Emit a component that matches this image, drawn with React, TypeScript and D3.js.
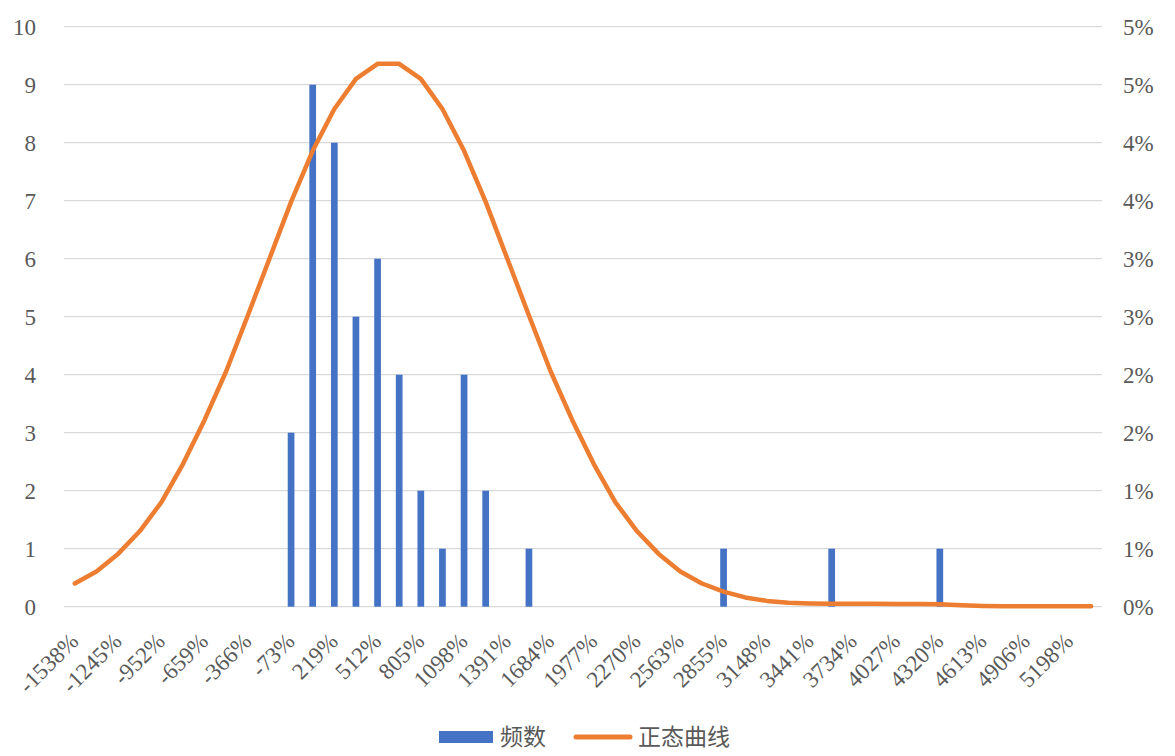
import { useEffect, useRef } from "react";
import * as d3 from "d3";

// x categories (bin labels), only every second one is shown on the axis
const categories = [
  "-1538%", "-1392%", "-1245%", "-1099%", "-952%", "-806%", "-659%", "-513%",
  "-366%", "-220%", "-73%", "73%", "219%", "366%", "512%", "659%",
  "805%", "952%", "1098%", "1245%", "1391%", "1538%", "1684%", "1831%",
  "1977%", "2124%", "2270%", "2417%", "2563%", "2709%", "2855%", "3002%",
  "3148%", "3295%", "3441%", "3588%", "3734%", "3881%", "4027%", "4174%",
  "4320%", "4467%", "4613%", "4760%", "4906%", "5052%", "5198%", "5345%",
];

// 频数 (left axis)
const counts = [
  0, 0, 0, 0, 0, 0, 0, 0, 0, 0, 3, 9, 8, 5, 6, 4,
  2, 1, 4, 2, 0, 1, 0, 0, 0, 0, 0, 0, 0, 0, 1, 0,
  0, 0, 0, 1, 0, 0, 0, 0, 1, 0, 0, 0, 0, 0, 0, 0,
];

// 正态曲线 (right axis, fraction)
const normal = [
  0.002, 0.00304, 0.00455, 0.0065, 0.009, 0.0123, 0.0161, 0.0203,
  0.0251, 0.03, 0.0349, 0.0393, 0.0429, 0.0455, 0.0468, 0.0468,
  0.0455, 0.0429, 0.0393, 0.0349, 0.03, 0.0251, 0.0203, 0.0161,
  0.0123, 0.009, 0.0065, 0.00455, 0.00304, 0.002, 0.0013, 0.0008,
  0.0005, 0.00035, 0.00028, 0.00025, 0.00025, 0.00025, 0.00024, 0.00024,
  0.00022, 0.00012, 0.00006, 0.00004, 0.00003, 0.00003, 0.00003, 0.00003,
];

const leftTicks = [0, 1, 2, 3, 4, 5, 6, 7, 8, 9, 10];
const rightTicks = [0, 0.005, 0.01, 0.015, 0.02, 0.025, 0.03, 0.035, 0.04, 0.045, 0.05];
const rightTickLabels = ["0%", "1%", "1%", "2%", "2%", "3%", "3%", "4%", "4%", "5%", "5%"];

const barName = "频数";
const lineName = "正态曲线";

export default function App() {
  const ref = useRef<SVGSVGElement | null>(null);

  useEffect(() => {
    if (!ref.current) return;

    const width = 1175;
    const height = 756;
    const margin = { top: 26.7, right: 73, bottom: 149.3, left: 64 };
    const textColor = "#595959";
    const serif = '"Liberation Serif", "DejaVu Serif", serif';
    const cjk = '"Noto Sans CJK SC", sans-serif';

    const svg = d3.select(ref.current);
    svg.selectAll("*").remove();
    svg.attr("viewBox", `0 0 ${width} ${height}`);

    const x = d3
      .scaleBand<string>()
      .domain(categories)
      .range([margin.left, width - margin.right])
      .padding(0);

    const y = d3.scaleLinear().domain([0, 10]).range([height - margin.bottom, margin.top]);
    const y2 = d3.scaleLinear().domain([0, 0.05]).range([height - margin.bottom, margin.top]);

    // gridlines
    svg
      .append("g")
      .selectAll("line")
      .data(leftTicks)
      .join("line")
      .attr("x1", margin.left)
      .attr("x2", width - margin.right)
      .attr("y1", (d) => y(d))
      .attr("y2", (d) => y(d))
      .attr("stroke", "#d9d9d9")
      .attr("stroke-width", 1.3);

    // left axis
    const gl = svg
      .append("g")
      .attr("transform", `translate(${margin.left},0)`)
      .call(d3.axisLeft(y).tickValues(leftTicks).tickSize(0).tickPadding(28));
    gl.select(".domain").remove();
    gl.attr("font-family", null).attr("font-size", null);
    gl.selectAll("text")
      .style("font-family", serif)
      .style("font-size", "23px")
      .attr("fill", textColor)
      .attr("dy", "0.33em");

    // right axis
    const gr = svg
      .append("g")
      .attr("transform", `translate(${width - margin.right},0)`)
      .call(
        d3
          .axisRight(y2)
          .tickValues(rightTicks)
          .tickSize(0)
          .tickPadding(21)
          .tickFormat((_, i) => rightTickLabels[i])
      );
    gr.select(".domain").remove();
    gr.attr("font-family", null).attr("font-size", null);
    gr.selectAll("text")
      .style("font-family", serif)
      .style("font-size", "23px")
      .attr("fill", textColor)
      .attr("dy", "0.33em");

    // x labels, rotated
    const bw = x.bandwidth();
    svg
      .append("g")
      .selectAll("text")
      .data(categories.filter((_, i) => i % 2 === 0))
      .join("text")
      .attr(
        "transform",
        (d) => `translate(${(x(d) ?? 0) + bw / 2 + 5},${height - margin.bottom + 36}) rotate(-45)`
      )
      .attr("text-anchor", "end")
      .style("font-family", serif)
      .style("font-size", "23px")
      .attr("fill", textColor)
      .text((d) => d);

    // bars
    const barW = bw * 0.31;
    svg
      .append("g")
      .selectAll("rect")
      .data(categories.map((c, i) => ({ c, v: counts[i] })).filter((d) => d.v > 0))
      .join("rect")
      .attr("x", (d) => (x(d.c) ?? 0) + (bw - barW) / 2)
      .attr("width", barW)
      .attr("y", (d) => y(d.v))
      .attr("height", (d) => y(0) - y(d.v))
      .attr("fill", "#4472c4");

    // normal curve
    const line = d3
      .line<number>()
      .x((_, i) => (x(categories[i]) ?? 0) + bw / 2)
      .y((d) => y2(d));

    svg
      .append("path")
      .datum(normal)
      .attr("fill", "none")
      .attr("stroke", "#ed7d31")
      .attr("stroke-width", 4.5)
      .attr("stroke-linejoin", "round")
      .attr("stroke-linecap", "round")
      .attr("d", line);

    // legend
    const lg = svg.append("g");
    lg.append("rect")
      .attr("x", 439)
      .attr("y", 731)
      .attr("width", 54)
      .attr("height", 12)
      .attr("fill", "#4472c4");
    lg.append("text")
      .attr("x", 500)
      .attr("y", 745)
      .style("font-family", cjk)
      .style("font-size", "23px")
      .attr("fill", textColor)
      .text(barName);
    lg.append("line")
      .attr("x1", 576)
      .attr("x2", 630)
      .attr("y1", 737)
      .attr("y2", 737)
      .attr("stroke", "#ed7d31")
      .attr("stroke-width", 5)
      .attr("stroke-linecap", "round");
    lg.append("text")
      .attr("x", 638)
      .attr("y", 745)
      .style("font-family", cjk)
      .style("font-size", "23px")
      .attr("fill", textColor)
      .text(lineName);
  }, []);

  return (
    <svg
      ref={ref}
      width={1175}
      height={756}
      style={{ position: "absolute", left: 0, top: 0, background: "#fff" }}
      role="img"
      aria-label="频数与正态曲线"
    />
  );
}
